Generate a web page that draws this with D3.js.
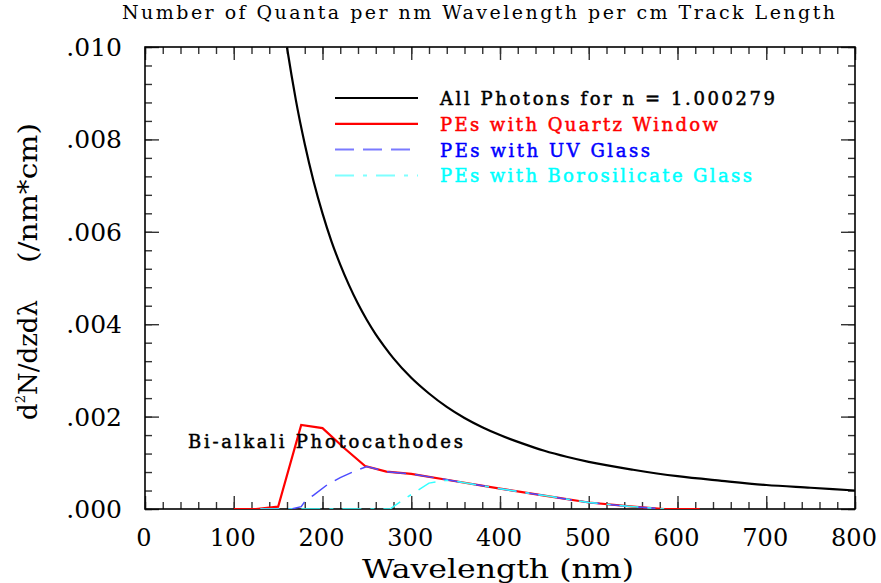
<!DOCTYPE html>
<html>
<head>
<meta charset="utf-8">
<script src="https://cdn.jsdelivr.net/npm/d3@7/dist/d3.min.js"></script>
<style>
  html, body { margin: 0; padding: 0; background: #fff; }
  svg { display: block; }
</style>
</head>
<body>
<svg id="chart" width="881" height="583"></svg>
<script>
// values
const xTicks = [0, 100, 200, 300, 400, 500, 600, 700, 800];
const yTicks = [0, 0.002, 0.004, 0.006, 0.008, 0.010];
const yTickLabels = [".000", ".002", ".004", ".006", ".008", ".010"];

const allLambda = [160, 165, 170, 180, 190, 200, 210, 220, 230, 240, 250, 260, 270, 280, 300,
    320, 340, 360, 380, 400, 425, 450, 475, 500, 550, 600, 650, 700, 750, 800];
const allPhotons = [0.00999, 0.00940, 0.00885, 0.00790, 0.00709, 0.00640, 0.00580, 0.00529, 0.00484, 0.00444,
    0.00409, 0.00378, 0.00351, 0.00326, 0.00284, 0.00250, 0.00221, 0.00197, 0.00177, 0.00160,
    0.00142, 0.00126, 0.00113, 0.00102, 0.00085, 0.00071, 0.00061, 0.00052, 0.00046, 0.00040];

const quartzLambda = [100, 125, 150, 176, 200, 225, 248, 272, 300, 350, 400, 450, 500, 550, 585, 625];
const quartzPE = [0, 0, 0.00005, 0.00182, 0.00175, 0.00131, 0.00093, 0.00081, 0.00076, 0.00060,
    0.00044, 0.00029, 0.00014, 0.00005, 0, 0];

const uvLambda = [130, 165, 176, 180, 190, 205, 220, 235, 250, 272, 300, 350, 400, 450, 500, 550, 585];
const uvPE = [0, 0, 0.00005, 0.00016, 0.00030, 0.00052, 0.00068, 0.00081, 0.00092, 0.00081,
    0.00076, 0.00060, 0.00044, 0.00029, 0.00014, 0.00005, 0];

const boroLambda = [130, 276, 295, 320, 340, 350, 400, 450, 500, 550, 585];
const boroPE = [0, 0, 0.00025, 0.00056, 0.00062, 0.00060, 0.00044, 0.00029, 0.00014, 0.00005, 0];

const legendLabels = ["All Photons for n = 1.000279", "PEs with Quartz Window",
    "PEs with UV Glass", "PEs with Borosilicate Glass"];

const svg = d3.select("#chart");
const pLeft = 145, pRight = 855, pTop = 47, pBottom = 509;
const serif = "DejaVu Serif";

const x = d3.scaleLinear().domain([0, 800]).range([pLeft, pRight]);
const y = d3.scaleLinear().domain([0, 0.010]).range([pBottom, pTop]);

const xMinor = d3.range(0, 801, 20);
const yMinor = d3.range(0, 0.01001, 0.0004);

svg.append("defs").append("clipPath").attr("id", "plotClip")
    .append("rect").attr("x", pLeft).attr("y", pTop)
    .attr("width", pRight - pLeft).attr("height", pBottom - pTop);

// ticks on all four sides, pointing inward
const tickStyle = (g) => {
    g.select(".domain").remove();
    g.selectAll(".tick line").attr("stroke", "#333").attr("stroke-width", 1.4);
};
const drawXTicks = (vals, size) => {
    svg.append("g").attr("transform", `translate(0,${pBottom})`)
        .call(d3.axisBottom(x).tickValues(vals).tickSize(-size).tickFormat("")).call(tickStyle);
    svg.append("g").attr("transform", `translate(0,${pTop})`)
        .call(d3.axisTop(x).tickValues(vals).tickSize(-size).tickFormat("")).call(tickStyle);
};
const drawYTicks = (vals, size) => {
    svg.append("g").attr("transform", `translate(${pLeft},0)`)
        .call(d3.axisLeft(y).tickValues(vals).tickSize(-size).tickFormat("")).call(tickStyle);
    svg.append("g").attr("transform", `translate(${pRight},0)`)
        .call(d3.axisRight(y).tickValues(vals).tickSize(-size).tickFormat("")).call(tickStyle);
};
drawXTicks(xMinor, 7);
drawXTicks(xTicks, 13);
drawYTicks(yMinor, 7);
drawYTicks(yTicks, 14);

svg.append("rect")
    .attr("x", pLeft).attr("y", pTop)
    .attr("width", pRight - pLeft).attr("height", pBottom - pTop)
    .attr("fill", "none").attr("stroke", "#000").attr("stroke-width", 1.6);

// tick labels
svg.append("g").selectAll("text").data(xTicks).join("text")
    .attr("x", (d) => x(d) - 1)
    .attr("y", 546)
    .attr("text-anchor", "middle")
    .attr("font-family", serif)
    .attr("font-size", "24px")
    .text((d) => d);

svg.append("g").selectAll("text").data(yTicks).join("text")
    .attr("x", 122)
    .attr("y", (d) => y(d) + 9)
    .attr("text-anchor", "end")
    .attr("font-family", serif)
    .attr("font-size", "25px")
    .text((d, i) => yTickLabels[i]);

// axis titles
svg.append("text")
    .attr("x", 498).attr("y", 578)
    .attr("text-anchor", "middle")
    .attr("font-family", serif)
    .attr("font-size", "26px")
    .attr("textLength", 272)
    .attr("lengthAdjust", "spacingAndGlyphs")
    .text("Wavelength (nm)");

const yLab1 = svg.append("text")
    .attr("transform", "translate(37,360) rotate(-90)")
    .attr("text-anchor", "middle")
    .attr("font-family", serif)
    .attr("font-size", "26px");
yLab1.append("tspan").text("d");
yLab1.append("tspan").attr("font-size", "13px").attr("dy", -12).text("2");
yLab1.append("tspan").attr("dy", 12).text("N/dzd\u03bb");

svg.append("text")
    .attr("transform", "translate(37,193) rotate(-90)")
    .attr("text-anchor", "middle")
    .attr("font-family", serif)
    .attr("font-size", "26px")
    .attr("textLength", 140)
    .attr("lengthAdjust", "spacingAndGlyphs")
    .text("(/nm*cm)");

svg.append("text")
    .attr("x", 122).attr("y", 19)
    .attr("font-family", serif)
    .attr("font-size", "19px")
    .attr("textLength", 713)
    .attr("lengthAdjust", "spacing")
    .text("Number of Quanta per nm Wavelength per cm Track Length");

// curves
const series = [
    { lam: quartzLambda, val: quartzPE, color: "#ff0000", width: 2.2, dash: null },
    { lam: uvLambda, val: uvPE, color: "#4d4dff", width: 1.5, dash: "19,9" },
    { lam: boroLambda, val: boroPE, color: "#33ffff", width: 1.5, dash: "19,9,4,9" },
];
const plot = svg.append("g").attr("clip-path", "url(#plotClip)");

plot.append("path")
    .datum(allLambda.map((l, i) => [l, allPhotons[i]]))
    .attr("d", d3.line().x((d) => x(d[0])).y((d) => y(d[1])).curve(d3.curveMonotoneX))
    .attr("fill", "none").attr("stroke", "#000").attr("stroke-width", 2.2);

series.forEach((s) => {
    plot.append("path")
        .datum(s.lam.map((l, i) => [l, s.val[i]]))
        .attr("d", d3.line().x((d) => x(d[0])).y((d) => y(d[1])))
        .attr("fill", "none")
        .attr("stroke", s.color)
        .attr("stroke-width", s.width)
        .attr("stroke-dasharray", s.dash);
});

// legend
const legendColors = ["#000", "#ff0000", "#0000ff", "#00ffff"];
const legendWidths = [335, 278, 210, 312];
const legendLine = [
    { color: "#000", width: 2.2, dash: null },
    { color: "#ff0000", width: 2.2, dash: null },
    { color: "#7a7aff", width: 2, dash: "19,9" },
    { color: "#7fffff", width: 2, dash: "19,9,4,9" },
];
const legend = svg.append("g");
legendLabels.forEach((lab, i) => {
    const ly = 98 + i * 25.8;
    legend.append("line")
        .attr("x1", 335).attr("x2", 418).attr("y1", ly).attr("y2", ly)
        .attr("stroke", legendLine[i].color)
        .attr("stroke-width", legendLine[i].width)
        .attr("stroke-dasharray", legendLine[i].dash);
    legend.append("text")
        .attr("x", 440).attr("y", ly + 7)
        .attr("font-family", serif)
        .attr("font-size", "18px")
        .attr("fill", legendColors[i])
        .attr("stroke", legendColors[i])
        .attr("stroke-width", 0.5)
        .attr("textLength", legendWidths[i])
        .attr("lengthAdjust", "spacing")
        .text(lab);
});

svg.append("text")
    .attr("x", 188).attr("y", 448)
    .attr("font-family", serif)
    .attr("font-size", "18px")
    .attr("stroke", "#000")
    .attr("stroke-width", 0.5)
    .attr("textLength", 275)
    .attr("lengthAdjust", "spacing")
    .text("Bi-alkali Photocathodes");
</script>
</body>
</html>
